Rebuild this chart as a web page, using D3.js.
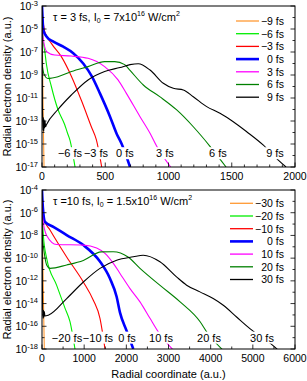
<!DOCTYPE html>
<html>
<head>
<meta charset="utf-8">
<script src="https://cdn.jsdelivr.net/npm/d3@7"></script>
<style>
  body { margin: 0; background: #fff; }
  text { font-family: "Liberation Sans", Arial, sans-serif; fill: #000; }
</style>
</head>
<body>
<svg id="chart" width="307" height="381"></svg>
<script>
// series: [radial coordinate (a.u.), log10 of density]
const topNames = ["\u22129 fs", "\u22126 fs", "\u22123 fs", "0 fs", "3 fs", "6 fs", "9 fs"];
const botNames = ["\u221230 fs", "\u221220 fs", "\u221210 fs", "0 fs", "10 fs", "20 fs", "30 fs"];
const colors = ["#ff9933", "#00ee00", "#ff0000", "#0000ff", "#ff00ff", "#008000", "#000000"];
const widths = [1.1, 1.1, 1.1, 2.6, 1.1, 1.1, 1.1];

const topM9 = [[0,-3],[5,-8],[10,-13],[16,-17]];
const topM6 = [[0,-4],[10,-6],[24,-7.1],[34,-8],[74,-10],[126,-12],[179,-13.3],[200,-14],[222,-14.7],[261,-17]];
const topM3 = [[0,-3.5],[21,-5.2],[74,-6.25],[153,-7.4],[232,-9.1],[311,-11.2],[390,-13.5],[430,-14.65],[472,-17]];
const top0 = [[0,-3],[5,-4.2],[10,-5.1],[37,-5.67],[90,-6.1],[168,-6.54],[247,-7.1],[326,-8],[393,-9.1],[458,-10.6],[537,-12.6],[590,-14.1],[630,-15],[696,-17]];
const topP3 = [[0,-5],[20,-6.5],[40,-7],[100,-7.26],[232,-7.35],[364,-7.55],[495,-8.27],[601,-9.43],[667,-10.6],[775,-12.63],[854,-14.07],[907,-15.2],[1017,-17]];
const topP6 = [[0,-8],[15,-8.9],[47,-9.3],[126,-9.15],[232,-8.7],[364,-8.27],[495,-7.84],[575,-7.84],[654,-8.1],[696,-8.6],[801,-9.87],[933,-10.9],[1065,-12.04],[1196,-13.5],[1328,-15.2],[1455,-17]];
const topP9 = [[0,-3],[2,-8],[3,-11.5],[5,-12.6],[8,-13.8],[11,-12.7],[14,-13.9],[17,-12.9],[20,-13.6],[24,-13],[28,-13.5],[34,-13.35],[126,-12],[232,-10.74],[364,-9.43],[495,-8.7],[617,-8.35],[696,-8.1],[761,-8.02],[854,-8.57],[959,-9.72],[1038,-10.16],[1117,-10.3],[1196,-10.89],[1302,-11.75],[1407,-12.33],[1512,-13.06],[1618,-13.93],[1750,-15.1],[1868,-16.4],[1929,-17]];

const botM30 = [[0,-4],[20,-10],[40,-15],[55,-18]];
const botM20 = [[0,-5],[32,-8],[110,-10],[348,-12.4],[545,-14.4],[664,-15.6],[782,-18]];
const botM10 = [[0,-4.5],[32,-6.5],[190,-7.53],[585,-9.9],[980,-12.1],[1217,-13.7],[1375,-15.3],[1494,-18]];
const bot0 = [[0,-4],[20,-5.5],[71,-6.8],[269,-7.24],[585,-7.97],[980,-8.85],[1375,-10.3],[1612,-11.8],[1770,-13.4],[1850,-14.8],[2007,-16.4],[2165,-18]];
const botP10 = [[0,-5],[16,-6.5],[110,-8],[348,-8.8],[980,-8.85],[1296,-9.1],[1500,-9.6],[1700,-10.5],[1850,-11.35],[2087,-12.68],[2324,-13.85],[2561,-15.3],[2759,-16.5],[3114,-18.1]];
const botP20 = [[0,-8],[110,-10.6],[190,-10.9],[585,-10.6],[980,-10.2],[1406,-9.45],[1690,-9.44],[2040,-9.9],[2324,-10.9],[2800,-12.4],[3275,-13.85],[3750,-15.6],[3908,-16.5],[4290,-18.1]];
const botP30 = [[0,-4],[8,-12],[15,-14.5],[25,-15.3],[35,-14.6],[45,-15.2],[55,-14.7],[70,-15.1],[150,-15.03],[585,-13.56],[980,-12.1],[1375,-10.9],[1770,-10.18],[2165,-9.88],[2400,-9.74],[2797,-10.32],[3190,-11.65],[3430,-12.38],[3745,-12.97],[4060,-13.56],[4300,-14.15],[4615,-15.18],[4930,-16.2],[5480,-17.7],[5600,-18.1]];

const topLabelX = [221, 427, 656, 972, 1391, 1842];
const botLabelX = [593, 1328, 2016, 2822, 3960, 5217];

const svg = d3.select("#chart");

function drawPanel(p) {
  const x = d3.scaleLinear().domain([0, p.xMax]).range([42, 295]);
  const y = d3.scaleLog().domain([Math.pow(10, p.yMin), Math.pow(10, p.yMax)]).range([p.bottom, p.top]);
  const g = svg.append("g");
  const clipId = "clip" + p.id;
  svg.append("clipPath").attr("id", clipId).append("rect")
    .attr("x", 42).attr("y", p.top).attr("width", 253).attr("height", p.bottom - p.top);

  const line = d3.line()
    .x(d => x(d[0]))
    .y(d => y(Math.pow(10, d[1])))
    .curve(d3.curveMonotoneX);

  const curves = g.append("g").attr("clip-path", `url(#${clipId})`);
  p.series.forEach((s, i) => {
    curves.append("path").datum(s)
      .attr("d", line)
      .attr("fill", "none")
      .attr("stroke", colors[i])
      .attr("stroke-width", widths[i]);
  });

  // curve labels with white boxes
  const ly = y(Math.pow(10, p.labelExp));
  p.labelX.forEach((lx, i) => {
    const t = g.append("text")
      .attr("x", x(lx)).attr("y", ly + 4)
      .attr("text-anchor", "middle")
      .attr("font-size", 11)
      .text(p.names[i + 1]);
    const b = t.node().getBBox();
    g.insert("rect", "text")
      .attr("x", b.x - 1).attr("y", b.y).attr("width", b.width + 2).attr("height", b.height)
      .attr("fill", "#fff");
  });

  // ticks
  const tk = g.append("g").attr("stroke", "#000").attr("stroke-width", 0.8);
  d3.range(0, p.xMax + 1, p.xMinor).forEach(v => {
    const major = v % p.xMajor === 0;
    tk.append("line").attr("x1", x(v)).attr("x2", x(v))
      .attr("y1", p.bottom).attr("y2", p.bottom - (major ? 4.5 : 2.5));
  });
  d3.range(p.yMin, p.yMax + 1).forEach(e => {
    const major = (e - p.yMin) % 2 === 0;
    const yy = y(Math.pow(10, e));
    tk.append("line").attr("x1", 42).attr("x2", 42 + (major ? 4.5 : 2.5)).attr("y1", yy).attr("y2", yy);
    tk.append("line").attr("x1", 295).attr("x2", 295 - (major ? 4.5 : 2.5)).attr("y1", yy).attr("y2", yy);
  });

  // tick labels
  d3.range(0, p.xMax + 1, p.xMajor).forEach(v => {
    g.append("text").attr("x", x(v)).attr("y", p.bottom + 13)
      .attr("text-anchor", "middle").attr("font-size", 10.5).text(v);
  });
  d3.range(p.yMin, p.yMax + 1, 2).forEach(e => {
    const t = g.append("text").attr("x", 38).attr("y", y(Math.pow(10, e)) + 4)
      .attr("text-anchor", "end").attr("font-size", 10.5);
    t.append("tspan").text("10");
    t.append("tspan").attr("dy", -4.5).attr("font-size", 7.5).text("-" + Math.abs(e));
  });

  // frame
  g.append("rect").attr("x", 42).attr("y", p.top).attr("width", 253).attr("height", p.bottom - p.top)
    .attr("fill", "none").attr("stroke", "#000").attr("stroke-width", 1);

  // legend
  p.names.forEach((n, i) => {
    const yy = p.legendY + i * 12.7;
    g.append("line").attr("x1", p.legendX1).attr("x2", p.legendX2).attr("y1", yy).attr("y2", yy)
      .attr("stroke", colors[i]).attr("stroke-width", i === 3 ? 2.6 : 1.3);
    g.append("text").attr("x", 284).attr("y", yy + 3.8).attr("text-anchor", "end")
      .attr("font-size", 10.5).text(n);
  });

  // title
  const tt = g.append("text").attr("x", 53).attr("y", p.top + 14.5).attr("font-size", 11);
  tt.append("tspan").text(p.title[0]);
  tt.append("tspan").attr("dy", 2.5).attr("font-size", 7).text("0");
  tt.append("tspan").attr("dy", -2.5).text(p.title[1]);
  tt.append("tspan").attr("dy", -4.5).attr("font-size", 7).text("16");
  tt.append("tspan").attr("dy", 4.5).text(" W/cm");
  tt.append("tspan").attr("dy", -4.5).attr("font-size", 7).text("2");

  // y axis title
  g.append("text")
    .attr("transform", `translate(11,${(p.top + p.bottom) / 2}) rotate(-90)`)
    .attr("text-anchor", "middle").attr("font-size", 11)
    .text("Radial electron density (a.u.)");
}

drawPanel({
  id: "a", top: 6, bottom: 167, xMax: 2000, xMajor: 500, xMinor: 100, yMin: -17, yMax: -3,
  series: [topM9, topM6, topM3, top0, topP3, topP6, topP9],
  names: topNames, labelX: topLabelX, labelExp: -15.8,
  legendY: 21, legendX1: 236, legendX2: 259,
  title: ["\u03c4 = 3 fs, I", " = 7x10"]
});

drawPanel({
  id: "b", top: 190, bottom: 349, xMax: 6000, xMajor: 1000, xMinor: 500, yMin: -18, yMax: -4,
  series: [botM30, botM20, botM10, bot0, botP10, botP20, botP30],
  names: botNames, labelX: botLabelX, labelExp: -17.0,
  legendY: 203.3, legendX1: 230, legendX2: 253,
  title: ["\u03c4 =10 fs, I", " = 1.5x10"]
});

svg.append("text").attr("x", 168.5).attr("y", 378).attr("text-anchor", "middle")
  .attr("font-size", 11).text("Radial coordinate (a.u.)");
</script>
</body>
</html>
